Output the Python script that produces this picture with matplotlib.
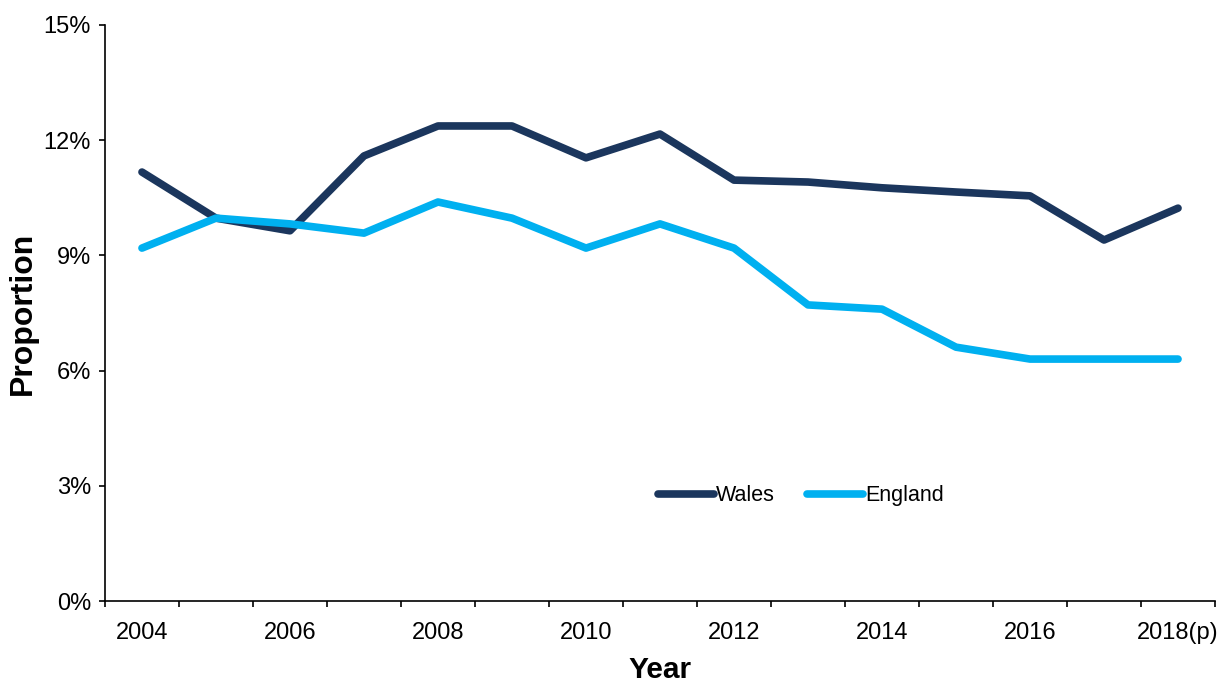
import numpy as np
import matplotlib.pyplot as plt
from matplotlib.ticker import FuncFormatter

plt.rcParams['font.family'] = ['Liberation Sans', 'DejaVu Sans']

years = ['2004', '2005', '2006', '2007', '2008', '2009', '2010', '2011',
         '2012', '2013', '2014', '2015', '2016', '2017', '2018(p)']
wales = [11.17, 9.97, 9.64, 11.59, 12.37, 12.37, 11.54, 12.16,
         10.96, 10.91, 10.76, 10.65, 10.55, 9.40, 10.23]
england = [9.19, 9.97, 9.82, 9.58, 10.39, 9.97, 9.19, 9.82,
           9.19, 7.71, 7.60, 6.61, 6.30, 6.30, 6.30]

x = np.arange(len(years))

fig = plt.figure(figsize=(12.22, 6.86), dpi=100)
ax = fig.add_axes([0.0859, 0.1239, 0.9084, 0.8397])

ax.plot(x, wales, color='#1B365D', lw=5.5, solid_capstyle='round',
        solid_joinstyle='round', label='Wales')
ax.plot(x, england, color='#00B0F0', lw=5.5, solid_capstyle='round',
        solid_joinstyle='round', label='England')

ax.set_xlim(-0.5, len(years) - 0.5)
ax.set_ylim(0, 15)
ax.set_yticks([0, 3, 6, 9, 12, 15])
ax.yaxis.set_major_formatter(FuncFormatter(lambda v, p: f'{v:.0f}%'))

# tick marks between categories, labels at every other category
ax.set_xticks(np.arange(-0.5, len(years)), labels=[''] * (len(years) + 1))
ax.set_xticks(x[::2], labels=years[::2], minor=True)
ax.tick_params(axis='x', which='minor', length=0, pad=15, labelsize=17)
ax.tick_params(axis='x', which='major', direction='out', length=4, width=1.2)
ax.tick_params(axis='y', direction='out', length=4, width=1.2, labelsize=17, pad=6)

for s in ['top', 'right']:
    ax.spines[s].set_visible(False)
for s in ['left', 'bottom']:
    ax.spines[s].set_linewidth(1.2)

ax.set_xlabel('Year', fontsize=21.5, fontweight='bold', labelpad=9)
ax.set_ylabel('Proportion', fontsize=23, fontweight='bold', labelpad=4)

ax.legend(loc='center', bbox_to_anchor=(0.627, 0.183), ncol=2, frameon=False,
          fontsize=15.5, handlelength=2.6, handletextpad=0.1, columnspacing=1.5)

fig.savefig('out.png', dpi=100)
